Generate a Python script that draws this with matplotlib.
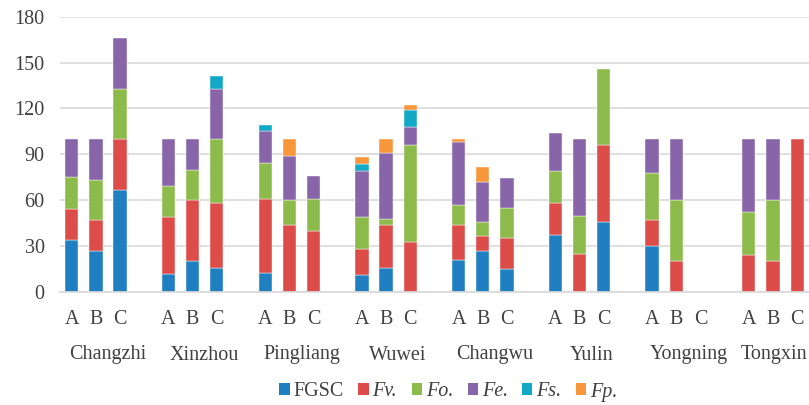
import numpy as np
import matplotlib
matplotlib.use("Agg")
import matplotlib.pyplot as plt
from matplotlib.patches import Patch
from matplotlib.transforms import blended_transform_factory

plt.rcParams['font.family'] = ['Liberation Serif', 'DejaVu Serif']

sites = ["Changzhi", "Xinzhou", "Pingliang", "Wuwei",
         "Changwu", "Yulin", "Yongning", "Tongxin"]
subs = ["A", "B", "C"]

# Stacked components per bar (site-major order: A, B, C for each site)
fgsc = [34, 27, 67,  12, 20, 16,  12.5, 0, 0,  11, 16, 0,
        21, 26.5, 15,  37, 0, 46,  30, 0, 0,  0, 0, 0]
fv   = [20, 20, 33,  37, 40, 42,  48, 44, 40,  17, 28, 33,
        23, 10, 20,  21, 25, 50,  17, 20, 0,  24, 20, 100]
fo   = [21, 26, 33,  20, 20, 42,  24, 16, 21,  21, 4, 63,
        13, 9, 20,  21, 25, 50,  31, 40, 0,  28, 40, 0]
fe   = [25, 27, 33,  31, 20, 33,  21, 29, 15,  30, 43, 12,
        41, 26.5, 19.5,  25, 50, 0,  22, 40, 0,  48, 40, 0]
fs   = [0, 0, 0,  0, 0, 8,  4, 0, 0,  5, 0, 11,
        0, 0, 0,  0, 0, 0,  0, 0, 0,  0, 0, 0]
fp   = [0, 0, 0,  0, 0, 0,  0, 11, 0,  4, 9, 3,
        2, 10, 0,  0, 0, 0,  0, 0, 0,  0, 0, 0]

series = [("FGSC", fgsc, "#1f7fc1", "normal"),
          ("Fv.", fv, "#dc4d4a", "italic"),
          ("Fo.", fo, "#8cba4b", "italic"),
          ("Fe.", fe, "#8865a8", "italic"),
          ("Fs.", fs, "#12a9c6", "italic"),
          ("Fp.", fp, "#f7963a", "italic")]

yticks = [0, 30, 60, 90, 120, 150, 180]

text_color = "#404040"
grid_color = "#d9d9d9"
fs_text = 14.5

W, H = 809, 405
fig = plt.figure(figsize=(W / 100, H / 100), dpi=100)
ax = fig.add_axes([60 / W, (H - 292) / H, (W - 60) / W, 275.3 / H])

# each site occupies four slots: three bars plus a blank separator
n_sub = len(subs)
pos = np.array([g * (n_sub + 1) + j for g in range(len(sites)) for j in range(n_sub)])

bottom = np.zeros(len(pos))
for name, vals, color, style in series:
    v = np.asarray(vals, dtype=float)
    m = v > 0
    ax.bar(pos[m], v[m], bottom=bottom[m], width=0.55, color=color,
           edgecolor="white", linewidth=0.3, zorder=3)
    bottom += v

ax.set_ylim(0, 180)
ax.set_xlim(-0.484, 30.49)
ax.set_yticks(yticks)
ax.set_yticklabels([str(t) for t in yticks])
ax.yaxis.grid(True, color=grid_color, linewidth=1.2, zorder=0)
ax.set_axisbelow(True)
for s in ["top", "right", "left"]:
    ax.spines[s].set_visible(False)
ax.spines["bottom"].set_color(grid_color)
ax.spines["bottom"].set_linewidth(1.2)
ax.spines["bottom"].set_zorder(4)

ax.tick_params(axis="y", length=0, pad=11, labelsize=fs_text, labelcolor=text_color)
ax.set_xticks(pos)
ax.set_xticklabels(subs * len(sites))
ax.tick_params(axis="x", length=0, pad=13, labelsize=fs_text, labelcolor=text_color)

# site names centred under each four-slot group
trans = blended_transform_factory(ax.transData, fig.transFigure)
y_site = (H - 355) / H
for g, name in enumerate(sites):
    xc = g * (n_sub + 1) + (n_sub) / 2 - 0.5 + 0.5
    if g == len(sites) - 1:
        fig.text((W - 2) / W, y_site, name, ha="right", va="center",
                 fontsize=fs_text, color=text_color)
    else:
        ax.text(xc, y_site, name, transform=trans, ha="center", va="center",
                fontsize=fs_text, color=text_color)

handles = [Patch(facecolor=c, edgecolor="none") for _, _, c, _ in series]
leg = fig.legend(handles, [n for n, _, _, _ in series], loc="center",
                 bbox_to_anchor=(448.5 / W, (H - 392) / H), ncol=6,
                 frameon=False, fontsize=fs_text, handlelength=0.5,
                 handleheight=0.55, handletextpad=0.2, columnspacing=0.72,
                 borderpad=0, borderaxespad=0)
for t, (_, _, _, style) in zip(leg.get_texts(), series):
    t.set_color(text_color)
    t.set_fontstyle(style)

fig.savefig("out.png", dpi=100)
